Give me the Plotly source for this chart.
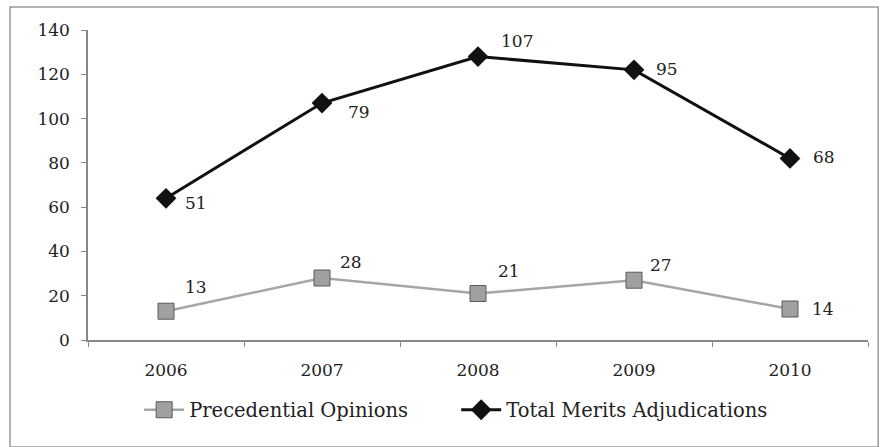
import numpy as np
import plotly.graph_objects as go

years = ["2006", "2007", "2008", "2009", "2010"]
precedential = [13, 28, 21, 27, 14]
total_merits = [51, 79, 107, 95, 68]
y_ticks = [0, 20, 40, 60, 80, 100, 120, 140]

# Chart is a stacked line chart: Total Merits line sits on top of Precedential
stacked_total = (np.array(precedential) + np.array(total_merits)).tolist()

FONT = "DejaVu Serif"
TXT = "#222222"

fig = go.Figure()
fig.add_trace(go.Scatter(
    x=years, y=precedential, name="Precedential Opinions",
    mode="lines+markers",
    line=dict(color="#a6a6a6", width=2.5),
    marker=dict(symbol="square", size=16, color="#a0a0a0",
                line=dict(color="#5a5a5a", width=1)),
))
fig.add_trace(go.Scatter(
    x=years, y=stacked_total, name="Total Merits Adjudications",
    mode="lines+markers",
    line=dict(color="#111111", width=3),
    marker=dict(symbol="diamond", size=16, color="#111111"),
))

prec_off = [(30, 24), (29, 16), (31, 23), (27, 15), (33, 0)]
tot_off = [(30, -5), (37, -9), (39, 16), (33, 1), (34, 1)]
for i in range(len(years)):
    fig.add_annotation(x=i, y=precedential[i], text=str(precedential[i]),
                       showarrow=False, xshift=prec_off[i][0], yshift=prec_off[i][1],
                       font=dict(family=FONT, size=17, color=TXT))
    fig.add_annotation(x=i, y=stacked_total[i], text=str(total_merits[i]),
                       showarrow=False, xshift=tot_off[i][0], yshift=tot_off[i][1],
                       font=dict(family=FONT, size=17, color=TXT))

# outer chart border
fig.add_shape(type="rect", xref="paper", yref="paper",
              x0=-0.1, x1=1.013, y0=-0.345, y1=1.074,
              line=dict(color="#9a9a9a", width=1.5), fillcolor="rgba(0,0,0,0)",
              layer="below")

fig.update_layout(
    width=883, height=447,
    margin=dict(l=88, r=15, t=30, b=107),
    paper_bgcolor="white", plot_bgcolor="white",
    font=dict(family=FONT, size=17, color=TXT),
    showlegend=True,
    legend=dict(orientation="h", x=0.472, xanchor="center", y=-0.226, yanchor="middle",
                font=dict(family=FONT, size=19.5, color=TXT), itemwidth=40,
                entrywidth=262, traceorder="normal"),
    xaxis=dict(type="category", range=[-0.5, 4.5], showline=True, linecolor="#888",
               linewidth=1.5, ticks="outside", ticklen=5, tickcolor="#888",
               tickson="boundaries", showgrid=False, zeroline=False,
               ticklabelstandoff=14,
               tickfont=dict(family=FONT, size=17, color=TXT)),
    yaxis=dict(range=[0, 140], tickvals=y_ticks, showline=True, linecolor="#888",
               linewidth=1.5, ticks="outside", ticklen=5, tickcolor="#888",
               showgrid=False, zeroline=False, ticklabelstandoff=8,
               tickfont=dict(family=FONT, size=17, color=TXT)),
)

fig.write_html("out.html", config={"displayModeBar": False},
               post_script="document.body.style.margin='0';document.body.style.overflow='hidden';")
